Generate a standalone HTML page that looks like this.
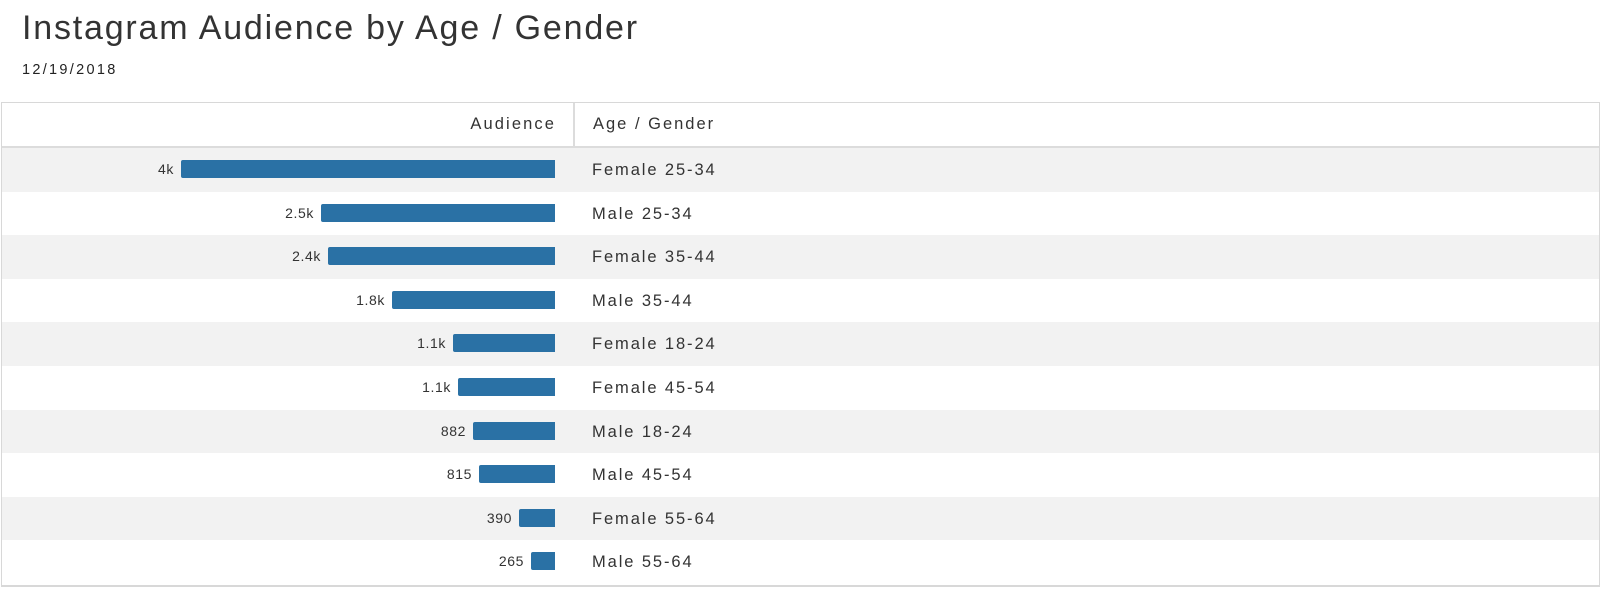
<!DOCTYPE html>
<html><head><style>
body{margin:0;width:1600px;height:592px;background:#fff;font-family:"Liberation Sans",sans-serif;color:#222;position:relative;overflow:hidden}
.t{position:absolute;left:22px;top:9px;font-size:34px;font-weight:300;color:#333;letter-spacing:1.8px}
.d{position:absolute;left:22px;top:62px;font-size:14.5px;color:#222;letter-spacing:2.3px}
.tbl{position:absolute;left:1px;top:102px;width:1597px;height:482px;border:1px solid #d8d8d8;border-bottom:2px solid #d8d8d8;border-right:2px solid #d8d8d8}
.h{position:absolute;left:0;top:0;width:100%;height:43px;border-bottom:2px solid #dcdcdc}
.h .a{position:absolute;right:1043px;top:12px;font-size:16.5px;letter-spacing:2.1px;color:#333}
.h .g{position:absolute;left:591px;top:12px;font-size:16.5px;letter-spacing:2px;color:#333}
.h .v{position:absolute;left:571px;top:0;height:43px;border-left:2px solid #dcdcdc}
.r{position:absolute;left:0;width:100%;height:44px}
.bar{position:absolute;top:12px;height:18px;background:#2a71a5;border-radius:2px 0 0 2px}
.n{position:absolute;top:13px;font-size:14px;text-align:right;width:60px;letter-spacing:0.6px;color:#333}
.l{position:absolute;left:590px;top:13px;font-size:16.5px;letter-spacing:1.9px;color:#333}
</style></head><body>
<div class="t">Instagram Audience by Age / Gender</div>
<div class="d">12/19/2018</div>
<div class="tbl">
<div class="h"><span class="a">Audience</span><span class="v"></span><span class="g">Age / Gender</span></div>
<div id="rows"></div>
</div>
<script>
var d=[["4k",180,"Female 25-34"],["2.5k",320,"Male 25-34"],["2.4k",327,"Female 35-44"],["1.8k",391,"Male 35-44"],["1.1k",452,"Female 18-24"],["1.1k",457,"Female 45-54"],["882",472,"Male 18-24"],["815",478,"Male 45-54"],["390",518,"Female 55-64"],["265",530,"Male 55-64"]];
var h='';d.forEach(function(x,i){var top=45+i*43.6;h+='<div class="r" style="top:'+top+'px;background:'+(i%2==0?'#f2f2f2':'#fff')+'"><span class="n" style="left:'+(x[1]-68)+'px">'+x[0]+'</span><span class="bar" style="left:'+(x[1]-1)+'px;width:'+(554-x[1])+'px"></span><span class="l">'+x[2]+'</span></div>'});
document.getElementById('rows').innerHTML=h;
</script>
</body></html>
